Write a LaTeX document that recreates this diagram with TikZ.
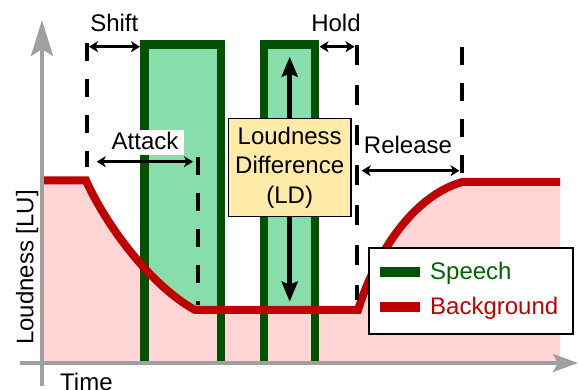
\documentclass[tikz,border=0pt]{standalone}
\usepackage{fontspec}
\setmainfont{Liberation Sans}
\usetikzlibrary{arrows.meta}
\definecolor{sgreen}{HTML}{005200}
\definecolor{sfill}{HTML}{88DEAA}
\definecolor{bred}{HTML}{C00000}
\definecolor{bpink}{HTML}{FFD5D5}
\definecolor{ldyellow}{HTML}{FFEBA8}
\definecolor{axgray}{HTML}{A0A0A0}
\definecolor{sptext}{HTML}{006400}
\begin{document}
\begin{tikzpicture}[x=1pt,y=-1pt,
  font=\fontsize{24}{29.3}\selectfont,
  speechfill/.style={fill=sfill, draw=none},
  speechline/.style={draw=sgreen, line width=8.5pt, line join=miter},
  bgline/.style={draw=bred, line width=8pt},
  dashv/.style={draw=black, line width=4pt, dash pattern=on 18pt off 18pt},
  dashw/.style={draw=black, line width=4pt, dash pattern=on 20pt off 20pt},
  dimarrow/.style={line width=3pt, {Stealth[length=9pt,width=11pt,inset=2.5pt]}-{Stealth[length=9pt,width=11pt,inset=2.5pt]}},
  ldarrow/.style={line width=5.5pt, -{Stealth[length=20pt,width=16pt,inset=3pt]}},
  axisline/.style={draw=axgray, line width=4pt},
  lbl/.style={inner sep=0pt, anchor=base}
]
\useasboundingbox (0,0) rectangle (579,390);

% speech fills
\fill[speechfill] (144.5,44.7) rectangle (220.8,362);
\fill[speechfill] (263.8,44.7) rectangle (315,362);

% background fill
\fill[bpink] (44,180.5) -- (86,180.5) .. controls (106,225) and (150,285) .. (195,310)
  -- (358,310) .. controls (373,262) and (408,198) .. (462,182) -- (560,182)
  -- (560,362) -- (44,362) -- cycle;

% speech outlines
\draw[speechline] (144.5,362) -- (144.5,44.7) -- (220.8,44.7) -- (220.8,362);
\draw[speechline] (263.8,362) -- (263.8,44.7) -- (315,44.7) -- (315,362);

% background curve
\draw[bgline] (44,180.5) -- (86,180.5) .. controls (106,225) and (150,285) .. (195,310)
  -- (358,310) .. controls (373,262) and (408,198) .. (462,182) -- (560,182);

% dashed markers
\coordinate (dAt) at (86.7,43);   \coordinate (dAb) at (86.7,167);
\coordinate (dBt) at (197.7,156.7); \coordinate (dBb) at (197.7,305);
\coordinate (dCt) at (356.7,45);  \coordinate (dCb) at (356.7,300);
\coordinate (dDt) at (461.7,46.7); \coordinate (dDb) at (461.7,175);
\draw[dashv] (dAt) -- (dAb);
\draw[dashv] (dBt) -- (dBb);
\draw[dashw] (dCt) -- (dCb);
\draw[dashv] (dDt) -- (dDb);

% axes
\coordinate (xa0) at (20,363); \coordinate (xa1) at (578,363);
\coordinate (ya0) at (42,386); \coordinate (ya1) at (42,20);
\draw[axisline, -{Stealth[length=25pt,width=18pt,inset=5pt]}] (xa0) -- (xa1);
\draw[axisline, -{Stealth[length=36pt,width=22pt,inset=7pt]}] (ya0) -- (ya1);

% dimension arrows
\coordinate (shL) at (89,46.7);   \coordinate (shR) at (140,46.7);
\coordinate (hoL) at (319.5,46.7); \coordinate (hoR) at (354.5,46.7);
\coordinate (atL) at (96.7,161.7); \coordinate (atR) at (193,161.7);
\coordinate (reL) at (361.7,170.7); \coordinate (reR) at (459.5,170.7);
\draw[dimarrow] (shL) -- (shR);
\draw[dimarrow] (hoL) -- (hoR);
\draw[dimarrow] (atL) -- (atR);
\draw[dimarrow] (reL) -- (reR);

% labels
\node[lbl] (shift) at (114.3,31.7) {Shift};
\node[lbl] (hold) at (336,31.7) {Hold};
\node[lbl, fill=white, inner xsep=5.5pt, text height=20.3pt, text depth=5pt] (attack) at (145,150) {Attack};
\node[lbl] (release) at (408,154) {Release};
\node[lbl, rotate=90] (ylab) at (33.3,267.5) {Loudness [LU]};
\node[inner sep=0pt, anchor=base west] (xlab) at (60,391) {Time};

% LD box and arrows
\node[draw=black, line width=1.5pt, fill=ldyellow, minimum width=122.7pt, minimum height=98.4pt,
  inner sep=0pt, align=center] (ld) at (289.7,167.5) {Loudness\\Difference\\(LD)};
\coordinate (ldup) at (289.7,56.7);
\coordinate (lddn) at (289.7,301.7);
\draw[ldarrow] (ld) -- (ldup);
\draw[ldarrow] (ld) -- (lddn);

% legend
\node[draw=black, line width=1.5pt, fill=white, minimum width=204pt, minimum height=86pt,
  inner sep=0pt, anchor=north west] (legend) at (368.3,247.3) {};
\coordinate (spA) at (380,271.7); \coordinate (spB) at (420,271.7);
\coordinate (bgA) at (380,306.7); \coordinate (bgB) at (420,306.7);
\draw[draw=sgreen, line width=10pt] (spA) -- (spB);
\draw[draw=bred, line width=10pt] (bgA) -- (bgB);
\node[inner sep=0pt, anchor=base west, text=sptext] (sptxt) at (430,279.3) {Speech};
\node[inner sep=0pt, anchor=base west, text=bred] (bgtxt) at (430,314.3) {Background};
\end{tikzpicture}
\end{document}
